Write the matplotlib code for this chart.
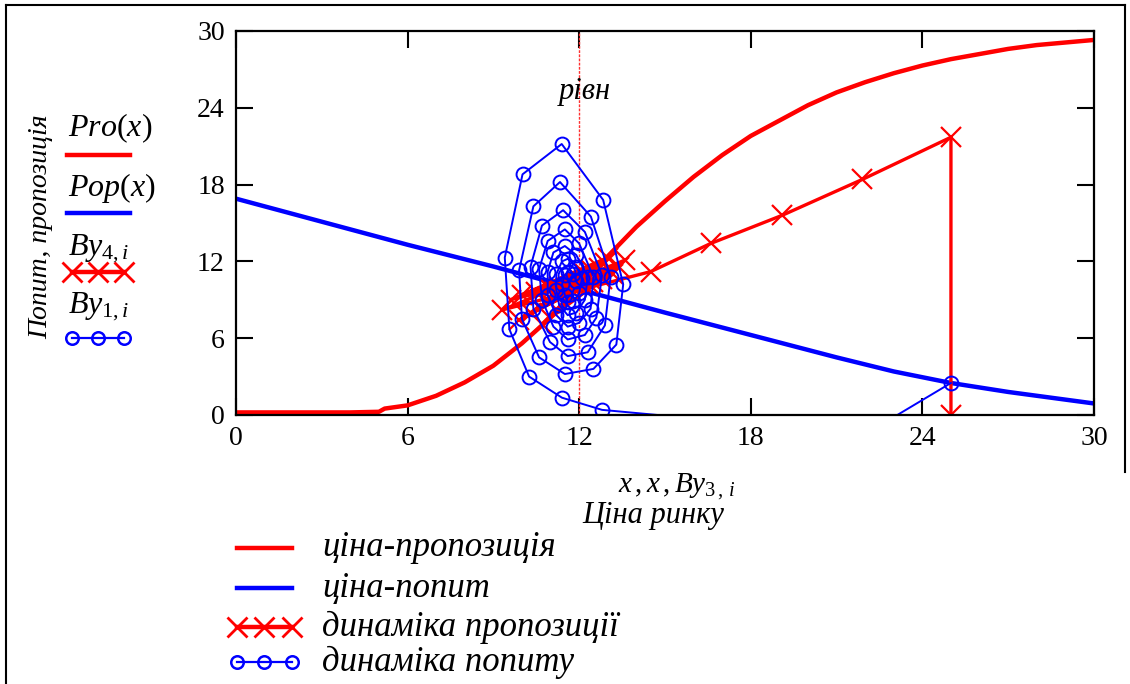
import numpy as np
import matplotlib
matplotlib.use("Agg")
import matplotlib.pyplot as plt
from matplotlib.lines import Line2D

plt.rcParams['font.family'] = ['Liberation Serif', 'DejaVu Serif']
plt.rcParams['mathtext.fontset'] = 'custom'
plt.rcParams['mathtext.rm'] = 'Liberation Serif'
plt.rcParams['mathtext.it'] = 'Liberation Serif:italic'

# supply curve Pro(x)
pro_x = [0, 1, 2, 3, 4, 5, 5.2, 6, 7, 8, 9, 10, 11, 12, 13, 14, 15, 16, 17, 18,
         19, 20, 21, 22, 23, 24, 25, 26, 27, 28, 29, 30]
pro_y = [0.2, 0.2, 0.2, 0.2, 0.2, 0.25, 0.5, 0.75, 1.5, 2.55, 3.85, 5.6, 7.6, 10.0,
         12.4, 14.7, 16.7, 18.6, 20.3, 21.8, 23.0, 24.2, 25.2, 26.0, 26.7, 27.3,
         27.8, 28.2, 28.6, 28.9, 29.1, 29.3]

# demand curve Pop(x)
pop_x = [0, 3, 6, 9, 12, 15, 18, 21, 23, 25, 27, 30]
pop_y = [16.9, 15.1, 13.3, 11.6, 9.8, 8.0, 6.25, 4.5, 3.4, 2.5, 1.8, 0.9]

# supply dynamics By3 / By4
by4_x = [25.0, 25.0, 21.9, 19.1, 16.6, 14.5, 9.3, 13.6, 9.9, 13.4, 10.7, 13.0, 9.6,
         13.2, 10.3, 12.9, 10.0, 12.8, 10.6, 12.7, 10.5, 12.5, 10.9, 12.4, 11.0,
         12.3, 11.2, 12.2, 11.3, 12.1, 11.5, 12.0, 11.6, 11.9, 11.7, 11.8]
by4_y = [0.0, 21.7, 18.4, 15.6, 13.4, 11.2, 8.2, 12.1, 7.4, 11.6, 7.1, 12.3, 9.0,
         11.0, 8.0, 11.9, 9.4, 10.6, 8.4, 11.5, 9.6, 10.4, 8.9, 11.3, 9.8,
         10.3, 9.3, 11.0, 10.0, 10.3, 9.7, 10.6, 10.0, 10.3, 10.1, 10.2]

# demand dynamics By3 / By1
by1_x = [25.0, 22.0, 12.8, 11.4, 10.25, 9.56, 9.4, 10.02, 11.39, 12.84, 13.54, 13.3,
         12.5, 11.5, 10.6, 10.0, 9.9, 10.4, 11.33, 12.41, 13.1, 12.9, 12.3, 11.6,
         10.98, 10.4, 10.3, 10.7, 11.44, 12.2, 12.8, 12.6, 12.2, 11.6, 11.1, 10.7,
         10.6, 10.9, 11.5, 12.0, 12.5, 12.4, 12.0, 11.6, 11.2, 10.9, 10.9, 11.1,
         11.5, 11.9, 12.3, 12.2, 11.9, 11.6, 11.3, 11.2, 11.2, 11.4, 11.6, 11.9,
         12.1, 12.0, 11.8, 11.6, 11.5, 11.4, 11.5, 11.6, 11.8, 11.9]
by1_y = [2.5, -1.5, 0.4, 1.35, 3.0, 6.7, 12.3, 18.8, 21.17, 16.8, 10.2, 5.5,
         3.6, 3.2, 4.5, 7.5, 11.3, 16.3, 18.2, 15.5, 10.8, 7.0, 4.9, 4.6,
         5.7, 8.3, 11.6, 14.8, 16.0, 14.3, 10.9, 7.6, 6.25, 5.9, 6.9, 9.0,
         11.4, 13.6, 14.5, 13.4, 10.8, 8.3, 7.2, 6.9, 7.8, 9.4, 11.2, 12.7,
         13.2, 12.5, 10.8, 9.0, 8.0, 7.8, 8.6, 9.8, 11.0, 12.0, 12.2, 11.6,
         10.7, 9.5, 8.9, 8.8, 9.4, 10.2, 10.9, 11.2, 11.0, 10.5]

x_eq = 12
ticks = [0, 6, 12, 18, 24, 30]

fig = plt.figure(figsize=(11.3, 6.84), dpi=100)
ax = fig.add_axes([0.2088, 0.3933, 0.7593, 0.5614])

ax.axvline(x_eq, color='#ff3030', lw=1.0, ls=(0, (2, 1)))
ax.plot(pro_x, pro_y, color='red', lw=3.2)
ax.plot(pop_x, pop_y, color='blue', lw=3.2)
ax.plot(by4_x, by4_y, color='red', lw=2.4, marker='x', ms=15, mew=1.6)
ax.plot(by1_x, by1_y, color='blue', lw=1.4, marker='o', ms=10, mfc='none', mew=1.4)
ax.text(x_eq + 0.2, 25.3, 'рівн', ha='center', va='center', fontsize=22, style='italic')

ax.set_xlim(0, 30)
ax.set_ylim(0, 30)
ax.set_xticks(ticks)
ax.set_yticks(ticks)
ax.tick_params(direction='in', length=12, width=1.5, labelsize=20, top=True, right=True,
               pad=8)
for s in ax.spines.values():
    s.set_linewidth(1.6)

# axis titles
fig.text(0.036, 0.668, 'Попит, пропозиція', rotation=90, ha='center', va='center',
         fontsize=20, style='italic')
fig.text(0.599, 0.288, r'$x\,,x\,,By_{3\,,\,i}$', ha='center', va='center', fontsize=21)
fig.text(0.578, 0.246, 'Ціна ринку', ha='center', va='center', fontsize=22, style='italic')

# left legend (label above the line sample)
def sample(x0, x1, y, **kw):
    xs = np.linspace(x0, x1, 3)
    fig.add_artist(Line2D(xs, [y] * 3, transform=fig.transFigure, **kw))

fig.text(0.060, 0.812, r'$Pro(x)$', ha='left', va='center', fontsize=23)
sample(0.059, 0.115, 0.773, color='red', lw=3.2)
fig.text(0.060, 0.725, r'$Pop(x)$', ha='left', va='center', fontsize=23)
sample(0.059, 0.115, 0.688, color='blue', lw=3.2)
fig.text(0.060, 0.636, r'$By_{4,i}$', ha='left', va='center', fontsize=23)
sample(0.064, 0.110, 0.602, color='red', lw=3.2, marker='x', ms=15, mew=2)
fig.text(0.060, 0.551, r'$By_{1,i}$', ha='left', va='center', fontsize=23)
sample(0.064, 0.110, 0.506, color='blue', lw=1.6, marker='o', ms=9, mfc='none', mew=1.8)

# bottom legend
rows = [(0.199, 'ціна-пропозиція', dict(color='red', lw=3.2)),
        (0.140, 'ціна-попит', dict(color='blue', lw=3.2)),
        (0.083, 'динаміка пропозиції', dict(color='red', lw=3.2, marker='x', ms=15, mew=2)),
        (0.032, 'динаміка попиту', dict(color='blue', lw=1.6, marker='o', ms=9, mfc='none', mew=1.8))]
for y, txt, kw in rows:
    sample(0.210, 0.258, y, **kw)
    fig.text(0.285, y, txt, ha='left', va='center', fontsize=25, style='italic')

# outer frame lines
fig.add_artist(Line2D([0.005, 0.996], [0.992, 0.992], transform=fig.transFigure, color='black', lw=1.5))
fig.add_artist(Line2D([0.005, 0.005], [0.992, 0.0], transform=fig.transFigure, color='black', lw=1.5))
fig.add_artist(Line2D([0.996, 0.996], [0.992, 0.31], transform=fig.transFigure, color='black', lw=1.5))

fig.savefig('out.png', dpi=100)
